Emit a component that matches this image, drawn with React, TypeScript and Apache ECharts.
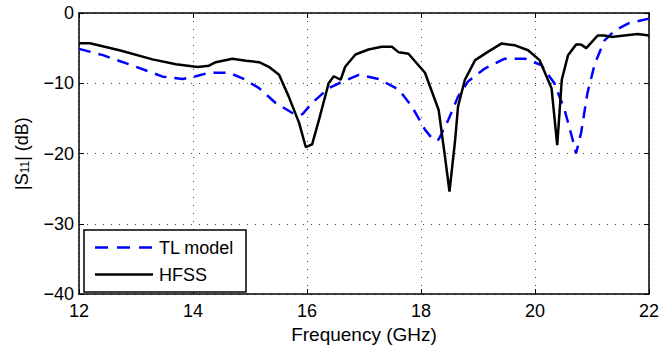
import React, { useEffect, useRef } from "react";
import * as echarts from "echarts";

const xTicks = [12, 14, 16, 18, 20, 22];
const yTicks = [-40, -30, -20, -10, 0];
const legendNames = ["TL model", "HFSS"];

const tlFreq = [12.0, 12.42, 13.0, 13.47, 13.82, 14.0, 14.28, 14.63, 14.87, 15.16, 15.45, 15.8, 15.92, 16.09, 16.38, 16.56, 16.91, 17.26, 17.61, 17.84, 18.07, 18.22, 18.31, 18.48, 18.65, 18.83, 19.12, 19.47, 19.82, 20.11, 20.34, 20.52, 20.66, 20.72, 20.81, 20.92, 21.05, 21.22, 21.4, 21.63, 22.0];
const tlS11 = [-5.1, -6.0, -7.65, -9.06, -9.4, -9.1, -8.5, -8.5, -9.3, -10.7, -12.8, -14.5, -14.4, -12.8, -10.7, -10.0, -8.8, -9.4, -10.9, -13.3, -16.6, -18.1, -18.0, -15.2, -11.9, -9.7, -7.9, -6.5, -6.5, -7.4, -10.0, -13.8, -18.0, -20.0, -17.0, -11.4, -7.2, -3.9, -2.5, -1.5, -0.8];

const hfssFreq = [12.0, 12.19, 12.71, 13.29, 13.7, 14.08, 14.28, 14.4, 14.69, 14.93, 15.16, 15.33, 15.51, 15.68, 15.86, 15.98, 16.09, 16.21, 16.38, 16.47, 16.59, 16.67, 16.85, 17.08, 17.31, 17.49, 17.61, 17.78, 18.07, 18.31, 18.42, 18.5, 18.6, 18.65, 18.77, 18.95, 19.18, 19.41, 19.65, 19.88, 20.08, 20.29, 20.39, 20.47, 20.58, 20.72, 20.81, 20.9, 21.1, 21.22, 21.34, 21.57, 21.8, 22.0];
const hfssS11 = [-4.3, -4.3, -5.3, -6.6, -7.3, -7.7, -7.5, -7.0, -6.5, -6.8, -7.0, -7.65, -8.8, -11.9, -15.6, -19.1, -18.7, -15.2, -10.0, -9.0, -9.5, -7.65, -5.9, -5.2, -4.8, -4.8, -5.6, -5.8, -8.5, -13.8, -20.4, -25.4, -18.0, -13.3, -9.5, -6.7, -5.5, -4.35, -4.6, -5.3, -6.7, -10.7, -18.8, -9.5, -6.0, -4.5, -4.5, -5.0, -3.2, -3.2, -3.4, -3.2, -3.0, -3.2];

const FONT = "'Liberation Sans', Arial, sans-serif";
const DASH = [12, 8];

export default function App() {
  const ref = useRef<HTMLDivElement>(null);
  useEffect(() => {
    if (!ref.current) return;
    const chart = echarts.init(ref.current, undefined, { renderer: "svg" });
    const fmt = (v: number) => (v < 0 ? "\u2212" + Math.abs(v) : String(v));
    const baseX = {
      type: "value" as const,
      min: xTicks[0],
      max: xTicks[xTicks.length - 1],
      interval: 2,
      axisLine: { show: true, onZero: false, lineStyle: { color: "#000", width: 1.5 } },
      axisTick: { show: true, inside: true, length: 5, lineStyle: { color: "#000", width: 1 } },
    };
    const baseY = {
      type: "value" as const,
      min: yTicks[0],
      max: yTicks[yTicks.length - 1],
      interval: 10,
      axisLine: { show: true, onZero: false, lineStyle: { color: "#000", width: 1.5 } },
      axisTick: { show: true, inside: true, length: 5, lineStyle: { color: "#000", width: 1 } },
    };
    const lx = 95, lx2 = 153, ly1 = 247.5, ly2 = 274.5, tx = 159;
    chart.setOption({
      animation: false,
      backgroundColor: "#fff",
      textStyle: { fontFamily: FONT },
      grid: { left: 79, top: 13, width: 573, height: 283, containLabel: false },
      xAxis: [
        {
          ...baseX,
          position: "bottom",
          name: "Frequency (GHz)",
          nameLocation: "middle",
          nameGap: 28,
          nameTextStyle: { fontFamily: FONT, fontSize: 19, color: "#000", verticalAlign: "top" },
          axisLabel: { fontFamily: FONT, fontSize: 18, color: "#000", margin: 8 },
          splitLine: { show: true, lineStyle: { color: "#444", width: 1, type: [1, 7] } },
        },
        {
          ...baseX,
          position: "top",
          axisLabel: { show: false },
          splitLine: { show: false },
        },
      ],
      yAxis: [
        {
          ...baseY,
          position: "left",
          name: "|S{s|11}| (dB)",
          nameLocation: "middle",
          nameGap: 48,
          nameRotate: 90,
          nameTextStyle: {
            fontFamily: FONT,
            fontSize: 18,
            color: "#000",
            rich: { s: { fontFamily: FONT, fontSize: 12, color: "#000", padding: [7, 0, 0, 0] } },
          },
          axisLabel: { fontFamily: FONT, fontSize: 18, color: "#000", margin: 5, formatter: fmt },
          splitLine: { show: true, lineStyle: { color: "#444", width: 1, type: [1, 7] } },
        },
        {
          ...baseY,
          position: "right",
          axisLabel: { show: false },
          splitLine: { show: false },
        },
      ],
      graphic: [
        {
          type: "rect",
          shape: { x: 84, y: 230, width: 162, height: 62 },
          style: { fill: "#fff", stroke: "#000", lineWidth: 1.5 },
          z: 100,
        },
        {
          type: "line",
          shape: { x1: lx, y1: ly1, x2: lx2, y2: ly1 },
          style: { stroke: "#0000ff", lineWidth: 2.5, lineDash: [13, 9] },
          z: 101,
        },
        {
          type: "line",
          shape: { x1: lx, y1: ly2, x2: lx2, y2: ly2 },
          style: { stroke: "#000", lineWidth: 2.5 },
          z: 101,
        },
        {
          type: "text",
          x: tx,
          y: ly1,
          style: { text: legendNames[0], font: `18px ${FONT}`, fill: "#000", verticalAlign: "middle" },
          z: 101,
        },
        {
          type: "text",
          x: tx,
          y: ly2,
          style: { text: legendNames[1], font: `18px ${FONT}`, fill: "#000", verticalAlign: "middle" },
          z: 101,
        },
      ],
      series: [
        {
          name: legendNames[0],
          type: "line",
          showSymbol: false,
          symbol: "none",
          data: tlFreq.map((f, i) => [f, tlS11[i]]),
          lineStyle: { color: "#0000ff", width: 2.5, type: DASH },
          itemStyle: { color: "#0000ff" },
          z: 3,
        },
        {
          name: legendNames[1],
          type: "line",
          showSymbol: false,
          symbol: "none",
          data: hfssFreq.map((f, i) => [f, hfssS11[i]]),
          lineStyle: { color: "#000", width: 2.5 },
          itemStyle: { color: "#000" },
          z: 4,
        },
      ],
    });
    return () => chart.dispose();
  }, []);
  return (
    <div
      ref={ref}
      style={{ position: "fixed", left: 0, top: 0, width: 662, height: 349, background: "#fff" }}
    />
  );
}
